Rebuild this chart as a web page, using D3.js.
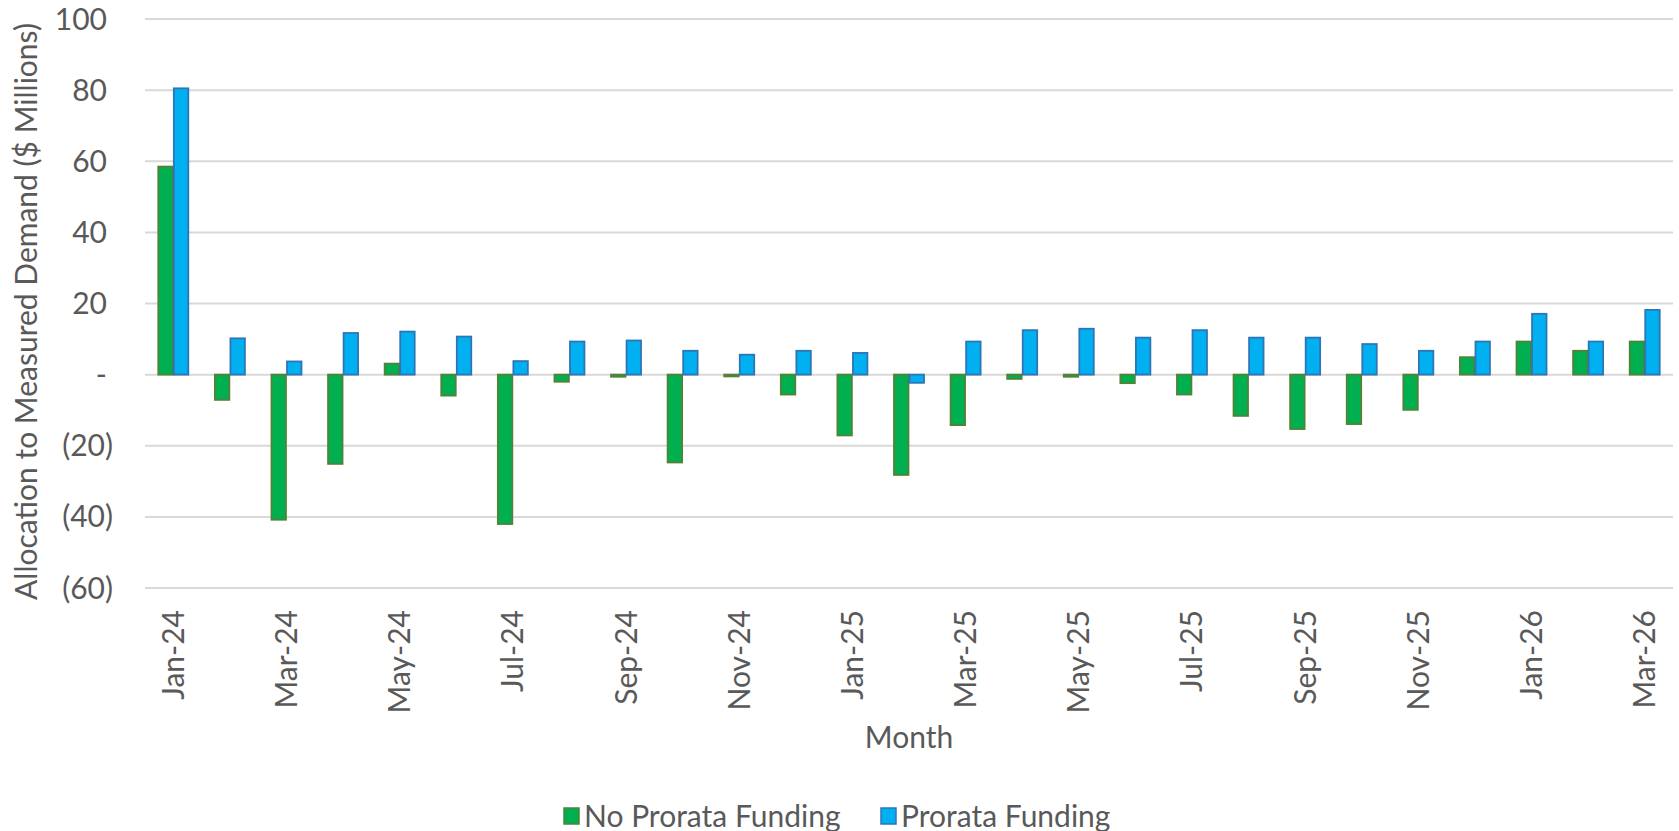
<!DOCTYPE html>
<html>
<head>
<meta charset="utf-8">
<script src="https://cdnjs.cloudflare.com/ajax/libs/d3/7.8.5/d3.min.js"></script>
<style>
  body { margin: 0; background: #fff; }
  text { font-family: Lato, "Open Sans", sans-serif; fill: #595959; }
</style>
</head>
<body>
<div id="chart"></div>
<script>
// month categories and the two series ($ millions)
var months = ["Jan-24","Feb-24","Mar-24","Apr-24","May-24","Jun-24","Jul-24","Aug-24","Sep-24",
  "Oct-24","Nov-24","Dec-24","Jan-25","Feb-25","Mar-25","Apr-25","May-25","Jun-25","Jul-25",
  "Aug-25","Sep-25","Oct-25","Nov-25","Dec-25","Jan-26","Feb-26","Mar-26"];

var noProrata = [58.5, -7.1, -40.8, -25.1, 3.1, -5.9, -42.0, -2.0, -0.6, -24.7, -0.5, -5.6,
  -17.1, -28.2, -14.2, -1.2, -0.6, -2.4, -5.6, -11.6, -15.3, -13.9, -9.9, 4.9, 9.3, 6.7, 9.3];

var prorata = [80.5, 10.2, 3.7, 11.7, 12.1, 10.7, 3.8, 9.3, 9.6, 6.7, 5.6, 6.7,
  6.1, -2.3, 9.3, 12.5, 12.9, 10.4, 12.5, 10.4, 10.4, 8.6, 6.7, 9.3, 17.1, 9.3, 18.2];

var yTicks = [100, 80, 60, 40, 20, 0, -20, -40, -60];
var seriesNames = ["No Prorata Funding", "Prorata Funding"];

var width = 1679, height = 831;
var plot = {left: 145, right: 1673, top: 19, bottom: 588};
var fill = ["#00B050", "#00B0F0"];
var stroke = ["#538135", "#2E75B6"];
var fontSize = 30;

var svg = d3.select("#chart").append("svg")
  .attr("width", width)
  .attr("height", height);

var y = d3.scaleLinear()
  .domain([-60, 100])
  .range([plot.bottom, plot.top]);

var x0 = d3.scaleBand()
  .domain(months)
  .range([plot.left, plot.right])
  .paddingInner(0.47)
  .paddingOuter(0.235);

var x1 = d3.scaleBand()
  .domain([0, 1])
  .range([0, x0.bandwidth()])
  .paddingInner(0.07);

// gridlines
svg.append("g")
  .selectAll("line")
  .data(yTicks)
  .enter().append("line")
    .attr("x1", plot.left)
    .attr("x2", plot.right)
    .attr("y1", function(d) { return y(d); })
    .attr("y2", function(d) { return y(d); })
    .attr("stroke", "#D9D9D9")
    .attr("stroke-width", 2);

// y labels, accounting style
function fmt(d) {
  if (d === 0) return "-";
  if (d < 0) return "(" + Math.abs(d) + ")";
  return String(d);
}
svg.append("g")
  .selectAll("text")
  .data(yTicks)
  .enter().append("text")
    .attr("x", function(d) { return d < 0 ? 113 : 107; })
    .attr("y", function(d) { return y(d); })
    .attr("dy", "0.35em")
    .attr("text-anchor", "end")
    .style("font-size", fontSize + "px")
    .text(fmt);

// bars
var rows = months.map(function(m, i) { return {month: m, vals: [noProrata[i], prorata[i]]}; });

var groups = svg.append("g")
  .selectAll("g")
  .data(rows)
  .enter().append("g")
    .attr("transform", function(d) { return "translate(" + x0(d.month) + ",0)"; });

groups.selectAll("rect")
  .data(function(d) { return d.vals.map(function(v, k) { return {k: k, v: v}; }); })
  .enter().append("rect")
    .attr("x", function(d) { return x1(d.k); })
    .attr("width", x1.bandwidth())
    .attr("y", function(d) { return y(Math.max(0, d.v)); })
    .attr("height", function(d) { return Math.abs(y(d.v) - y(0)); })
    .attr("fill", function(d) { return fill[d.k]; })
    .attr("stroke", function(d) { return stroke[d.k]; })
    .attr("stroke-width", 1.8);

// x labels every other month, rotated
svg.append("g")
  .selectAll("text")
  .data(months.filter(function(m, i) { return i % 2 === 0; }))
  .enter().append("text")
    .attr("transform", function(d) {
      return "translate(" + (x0(d) + x0.bandwidth() / 2) + ",610) rotate(-90)";
    })
    .attr("dy", "0.35em")
    .attr("text-anchor", "end")
    .style("font-size", fontSize + "px")
    .text(function(d) { return d; });

// axis titles
svg.append("text")
  .attr("transform", "translate(26," + ((plot.top + plot.bottom) / 2 + 8) + ") rotate(-90)")
  .attr("dy", "0.35em")
  .attr("text-anchor", "middle")
  .style("font-size", fontSize + "px")
  .text("Allocation to Measured Demand ($ Millions)");

svg.append("text")
  .attr("x", (plot.left + plot.right) / 2)
  .attr("y", 737)
  .attr("dy", "0.35em")
  .attr("text-anchor", "middle")
  .style("font-size", fontSize + "px")
  .text("Month");

// legend
var legendX = [564, 881];
var legend = svg.append("g")
  .selectAll("g")
  .data(seriesNames)
  .enter().append("g")
    .attr("transform", function(d, i) { return "translate(" + legendX[i] + ",816)"; });

legend.append("rect")
  .attr("x", 0)
  .attr("y", -8)
  .attr("width", 15)
  .attr("height", 16)
  .attr("fill", function(d, i) { return fill[i]; })
  .attr("stroke", function(d, i) { return stroke[i]; })
  .attr("stroke-width", 1.5);

legend.append("text")
  .attr("x", 20)
  .attr("y", 0)
  .attr("dy", "0.35em")
  .style("font-size", fontSize + "px")
  .text(function(d) { return d; });
</script>
</body>
</html>
